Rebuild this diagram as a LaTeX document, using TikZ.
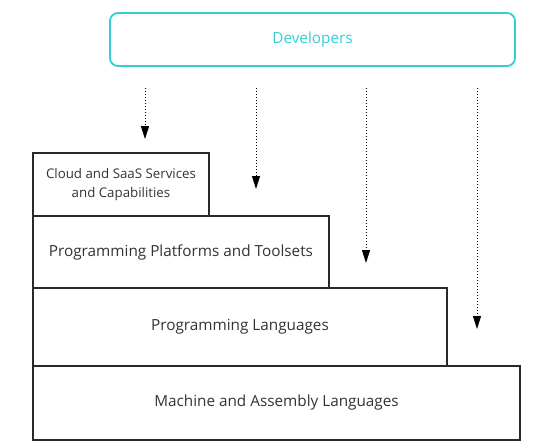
\documentclass[tikz,border=0pt]{standalone}
\usepackage{fontspec}
\setmainfont{Open Sans}
\usetikzlibrary{arrows.meta, positioning}

\definecolor{devcyan}{RGB}{52,206,214}
\definecolor{inkgrey}{RGB}{51,51,51}

\tikzset{
    layer/.style   = {draw=inkgrey!80!black, line width=1.8pt, text=inkgrey, inner sep=0pt, outer sep=0pt, align=center, font=\fontsize{15.3}{18}\selectfont},
    devbox/.style  = {draw=devcyan, line width=1.8pt, rounded corners=8pt, text=devcyan, font=\fontsize{15.3}{18}\selectfont},
    flow/.style    = {black, line width=1pt, dash pattern=on 1pt off 2pt, -{Triangle[width=8pt,length=13pt]}}
}

\begin{document}
\begin{tikzpicture}[x=1pt, y=-1pt]
            \useasboundingbox (0,0) rectangle (557,445);                                                        % page frame

            \node [devbox, minimum width=405pt, minimum height=53pt]                 (dev)   at (312.5,39.5) {Developers};   % Developers
            \node [layer, minimum width=487pt, minimum height=74pt, anchor=south west] (mach)  at (33,440)  {Machine and Assembly Languages};       % bottom layer
            \node [layer, minimum width=414pt, minimum height=78pt, anchor=south west] (lang)  at (mach.north west) {Programming Languages};       % languages
            \node [layer, minimum width=296pt, minimum height=72pt, anchor=south west] (plat)  at (lang.north west) {Programming Platforms and Toolsets}; % platforms
            \node [layer, minimum width=176pt, minimum height=63pt, anchor=south west, font=\fontsize{13.3}{19}\selectfont]
                                                                                      (cloud) at (plat.north west) {Cloud and SaaS Services\\and Capabilities}; % cloud

            \foreach \x/\y [count=\i] in {145/139, 256/189, 366/263, 477/329} {
                \coordinate (top\i) at (\x,88);                                         % arrow start
                \coordinate (tip\i) at (\x,\y);                                         % arrow tip
                \draw [flow] (top\i) -- (tip\i);                                        % dotted arrow
            }
        \end{tikzpicture}
\end{document}
